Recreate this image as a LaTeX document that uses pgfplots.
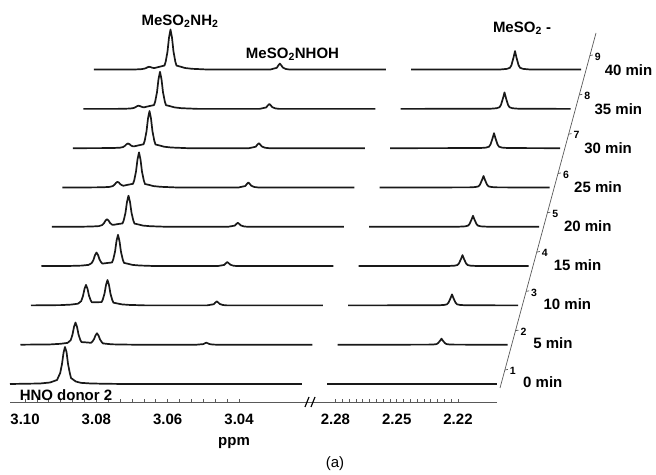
\documentclass[border=0pt]{standalone}
\usepackage{fontspec}
\setmainfont{Liberation Sans}
\usepackage{pgfplots}
\usepackage{pgfplotstable}
\pgfplotsset{compat=1.18}

% left panel (3.02 - 3.10 ppm), intensity of each spectrum s0 (0 min) ... s8 (40 min)
\pgfplotstableread{
ppm     s0   s1   s2   s3   s4   s5   s6   s7   s8
3.10421 0    0    0    0    0    0    0    0    0
3.09579 0.5  0.3  0.3  0.2  0.1  0.1  0.1  0    0
3.09299 1.5  0.9  0.8  0.5  0.3  0.2  0.2  0.1  0.1
3.09103 4    1.8  1.7  1.2  0.7  0.6  0.5  0.4  0.4
3.09013 11   4.5  4.3  3.0  1.8  1.4  1.2  0.9  0.9
3.08963 20   10.1 9.4  6.3  3.6  2.8  2.4  1.7  1.5
3.08921 31   17.8 16.5 11.0 6.2  4.6  3.9  2.7  2.3
3.08879 37   22.2 20.5 13.6 7.6  5.7  4.7  3.2  2.8
3.08836 32   17.8 16.6 11.1 6.3  4.8  4.0  2.8  2.5
3.08794 20   10.2 9.6  6.6  3.9  3.1  2.7  2.1  1.9
3.08744 11   4.7  4.8  3.5  2.3  2.1  1.9  1.6  1.6
3.08710 6    2.6  3.0  2.5  1.9  1.8  1.8  1.7  1.7
3.08577 2.5  2.3  3.2  3.1  2.7  2.8  2.9  2.8  2.9
3.08444 1.3  1.9  3.3  3.6  3.4  3.7  3.9  3.8  4.1
3.08410 1.1  2.9  5.6  6.6  6.4  7.2  7.5  7.5  8.1
3.08360 1.0  5.5  11.8 14.3 14.1 15.9 16.8 16.7 18
3.08318 0.9  9.3  20.4 25.1 25.0 28.1 29.7 29.7 32
3.08276 0.8  11.4 25.4 31.3 31.1 35.1 37.1 37.1 40
3.08234 0.7  9.2  20.4 25.0 24.9 28.1 29.7 29.7 32
3.08192 0.6  5.3  11.6 14.2 14.1 15.8 16.7 16.7 18
3.08141 0.5  2.5  5.2  6.4  6.3  7.1  7.4  7.4  8
3.08108 0.5  1.3  2.7  3.2  3.2  3.5  3.7  3.7  4
3.07981 0.4  0.8  1.8  2.2  2.2  2.45 2.6  2.6  2.8
3.07869 0.3  0.4  1.0  1.2  1.2  1.4  1.5  1.5  1.6
3.07673 0.2  0.2  0.5  0.6  0.6  0.7  0.7  0.7  0.8
3.07196 0    0    0    0    0    0    0    0    0
3.05486 0    0    0    0    0    0    0    0    0
3.05295 0    0.6  1.2  1.2  1.2  1.5  1.5  1.5  1.8
3.05253 0    1.4  2.8  2.8  2.8  3.5  3.5  3.5  4.2
3.05211 0    2    4    4    4    5    5    5    6
3.05169 0    1.4  2.8  2.8  2.8  3.5  3.5  3.5  4.2
3.05127 0    0.7  1.4  1.4  1.4  1.75 1.75 1.75 2.1
3.05043 0    0.2  0.4  0.4  0.4  0.5  0.5  0.5  0.6
3.04925 0    0    0    0    0    0    0    0    0
3.02234 0    0    0    0    0    0    0    0    0
}\leftdata

% right panel (2.20 - 2.28 ppm), MeSO2- signal
\pgfplotstableread{
ppm     s0 s1   s2   s3   s4   s5   s6   s7   s8
2.28416 0  0    0    0    0    0    0    0    0
2.24008 0  0.06 0.11 0.11 0.11 0.12 0.15 0.17 0.19
2.23714 0  0.24 0.44 0.44 0.44 0.46 0.6  0.66 0.74
2.23567 0  0.6  1.1  1.1  1.1  1.15 1.5  1.65 1.85
2.23494 0  1.5  2.75 2.75 2.75 2.9  3.75 4.1  4.6
2.23396 0  3.9  7.15 7.15 7.15 7.5  9.75 10.7 12
2.23322 0  6    11   11   11   11.5 15   16.5 18.5
2.23249 0  3.9  7.15 7.15 7.15 7.5  9.75 10.7 12
2.23151 0  1.5  2.75 2.75 2.75 2.9  3.75 4.1  4.6
2.23077 0  0.6  1.1  1.1  1.1  1.15 1.5  1.65 1.85
2.22931 0  0.24 0.44 0.44 0.44 0.46 0.6  0.66 0.74
2.22637 0  0.06 0.11 0.11 0.11 0.12 0.15 0.17 0.19
2.20090 0  0    0    0    0    0    0    0    0
}\rightdata

\newcommand\lbl{\fontsize{15}{18}\selectfont\bfseries}
\newcommand\numf{\fontsize{10.5}{12}\selectfont\bfseries}

\pgfplotsset{
  spec/.style={black!90, line width=1.7pt, line join=round},
  nmr/.style={
    scale only axis, anchor=south west, height=400pt,
    ymin=-18, ymax=382, x dir=reverse,
    axis x line*=bottom, axis y line=none, clip=false,
    x axis line style={draw=gray!70!black, line width=0.7pt, -},
    tick style={gray!70!black, line width=0.7pt}, tick align=inside,
    major tick length=3pt, minor tick length=2.5pt,
    xticklabel style={font=\lbl, yshift=-8pt},
  },
}

\begin{document}
\begin{tikzpicture}
\useasboundingbox (0pt,0pt) rectangle (656pt,474pt);

\begin{axis}[nmr, at={(10pt,72pt)}, width=292pt,
  xmin=3.02234, xmax=3.10421,
  xtick={3.10,3.08,3.06,3.04}, xticklabels={3.10,3.08,3.06,3.04},
  minor tick num=5]
\pgfplotsinvokeforeach{0,...,8}{
  \addplot[spec, xshift=#1*10.5pt, yshift=#1*39.3pt] table[x=ppm, y=s#1] {\leftdata};
}
\end{axis}

\begin{axis}[nmr, at={(325pt,72pt)}, width=172pt,
  xmin=2.2009, xmax=2.28514,
  xtick={2.22,2.25,2.28}, xticklabels={2.22,2.25,2.28},
  minor tick num=8]
\pgfplotsinvokeforeach{0,...,8}{
  \addplot[spec, xshift=#1*10.5pt, yshift=#1*39.3pt] table[x=ppm, y=s#1] {\rightdata};
}
\end{axis}

\begin{scope}[x=1pt, y=1pt]
  % axis break
  \draw[gray!70!black, line width=0.7pt] (302,72) -- (325,72);
  \draw[black, line width=1.2pt] (305,67) -- (309,77) (311,67) -- (315,77);
  % time axis
  \draw[gray!70!black, line width=0.7pt] (500,86) -- (596,441);
  \foreach \i in {0,...,8} {
    \pgfmathsetmacro\tx{504.87+10.63*\i}
    \pgfmathsetmacro\ty{104+39.3*\i}
    \pgfmathtruncatemacro\n{\i+1}
    \pgfmathtruncatemacro\m{5*\i}
    \draw[gray!70!black, line width=0.7pt] (\tx,\ty) -- ++(3,0.6);
    \node[font=\numf] at (\tx+8,\ty-1) {\n};
    \node[font=\lbl, anchor=west, inner sep=0pt] at (523+10.2*\i,91.5+39.1*\i) {\m\ min};
  }
  \node[font=\lbl] at (180,453) {MeSO\textsubscript{2}NH\textsubscript{2}};
  \node[font=\lbl] at (292.5,420) {MeSO\textsubscript{2}NHOH};
  \node[font=\lbl] at (522,446) {MeSO\textsubscript{2} -};
  \node[font=\lbl] at (66,79) {HNO donor 2};
  \node[font=\lbl] at (234,31) {ppm};
  \node[font=\fontsize{15}{18}\selectfont] at (335,10) {(a)};
\end{scope}
\end{tikzpicture}
\end{document}
